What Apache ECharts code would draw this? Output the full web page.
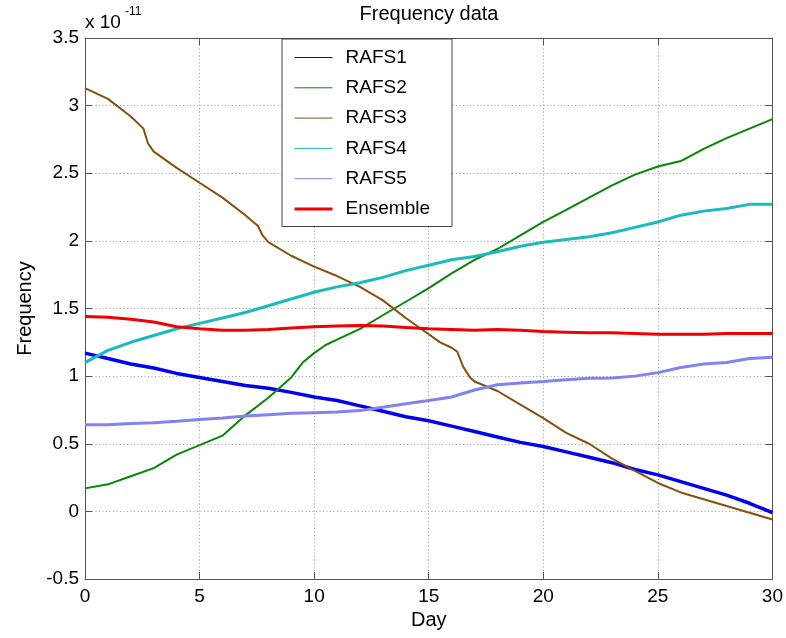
<!DOCTYPE html>
<html>
<head>
<meta charset="utf-8">
<title>Frequency data</title>
<script src="https://cdn.jsdelivr.net/npm/echarts@6/dist/echarts.min.js"></script>
<style>
  html, body { margin: 0; padding: 0; background: #fff; }
  #chart { width: 786px; height: 638px; }
</style>
</head>
<body>
<div id="chart"></div>
<script>
// Frequency offsets of five clocks and their ensemble, in units of 1e-11.
const SCALE_EXPONENT = '-11';

const days = [0, 1, 2, 3, 4, 5, 6, 7, 8, 9, 10, 11, 12, 13, 14, 15,
              16, 17, 18, 19, 20, 21, 22, 23, 24, 25, 26, 27, 28, 29, 30];

const rafs1 = [1.17, 1.13, 1.09, 1.06, 1.02, 0.99, 0.96, 0.93, 0.91, 0.88, 0.845,
               0.82, 0.78, 0.74, 0.70, 0.67, 0.63, 0.59, 0.55, 0.51, 0.48,
               0.44, 0.40, 0.36, 0.31, 0.27, 0.22, 0.17, 0.12, 0.06, -0.01];

const rafs2Days = [0, 1, 2, 3, 4, 5, 6, 7, 8, 9, 9.5, 10, 10.5, 11, 12, 13, 14, 15,
                   16, 17, 18, 19, 20, 21, 22, 23, 24, 25, 26, 27, 28, 29, 30];
const rafs2 = [0.17, 0.20, 0.26, 0.32, 0.42, 0.49, 0.56, 0.71, 0.84, 0.99, 1.10, 1.17,
               1.23, 1.27, 1.35, 1.45, 1.55, 1.65, 1.76, 1.86, 1.94, 2.04, 2.14,
               2.23, 2.32, 2.41, 2.49, 2.55, 2.59, 2.68, 2.76, 2.83, 2.90];

const rafs3Days = [0, 1, 2, 2.55, 2.75, 3, 4, 5, 6, 7, 7.55, 7.75, 8, 9, 10, 11, 12,
                   13, 14, 15, 15.5, 16, 16.25, 16.5, 16.8, 17, 18, 19, 20, 21, 22,
                   23, 24, 25, 26, 27, 28, 29, 30];
const rafs3 = [3.13, 3.05, 2.92, 2.83, 2.72, 2.66, 2.54, 2.43, 2.32, 2.19, 2.11, 2.04,
               1.99, 1.89, 1.81, 1.74, 1.66, 1.56, 1.43, 1.31, 1.25, 1.21, 1.18, 1.07,
               0.99, 0.96, 0.89, 0.79, 0.69, 0.58, 0.50, 0.39, 0.30, 0.21, 0.14,
               0.09, 0.04, -0.01, -0.06];

const rafs4 = [1.10, 1.19, 1.25, 1.30, 1.35, 1.39, 1.43, 1.47, 1.52, 1.57, 1.62,
               1.66, 1.69, 1.73, 1.78, 1.82, 1.86, 1.885, 1.92, 1.96, 1.99,
               2.01, 2.03, 2.06, 2.10, 2.14, 2.19, 2.22, 2.24, 2.27, 2.27];

const rafs5 = [0.64, 0.64, 0.65, 0.655, 0.667, 0.68, 0.69, 0.705, 0.715, 0.725, 0.73,
               0.735, 0.745, 0.77, 0.795, 0.82, 0.846, 0.897, 0.936, 0.95, 0.96,
               0.974, 0.985, 0.987, 1.0, 1.026, 1.064, 1.09, 1.10, 1.13, 1.14];

const ensemble = [1.44, 1.435, 1.42, 1.40, 1.365, 1.35, 1.34, 1.34, 1.345, 1.355, 1.365,
                  1.37, 1.375, 1.37, 1.36, 1.35, 1.345, 1.34, 1.345, 1.34, 1.33,
                  1.325, 1.32, 1.32, 1.315, 1.31, 1.31, 1.31, 1.315, 1.315, 1.315];

const seriesNames = ['RAFS1', 'RAFS2', 'RAFS3', 'RAFS4', 'RAFS5', 'Ensemble'];
const xTicks = [0, 5, 10, 15, 20, 25, 30];
const yTicks = [-0.5, 0, 0.5, 1, 1.5, 2, 2.5, 3, 3.5];

const pair = (xs, ys) => xs.map((x, i) => [x, ys[i]]);

const seriesData = [
  pair(days, rafs1),
  pair(rafs2Days, rafs2),
  pair(rafs3Days, rafs3),
  pair(days, rafs4),
  pair(days, rafs5),
  pair(days, ensemble)
];

const colors = ['#0000f0', '#0a840a', '#84500e', '#1cbaba', '#8282f0', '#f00000'];
const widths = [3.5, 2, 2, 3, 3, 3];
const legendWidths = [1, 1, 1, 1, 1, 3];

const FONT = 'Liberation Sans, Arial, Helvetica, sans-serif';
const AXIS_COLOR = '#555';

const chart = echarts.init(document.getElementById('chart'), null, { renderer: 'canvas' });

const tickFmt = v => String(+v.toFixed(2));

const option = {
  animation: false,
  backgroundColor: '#fff',
  textStyle: { fontFamily: FONT },
  grid: { left: 85, right: 13, top: 38, bottom: 59, containLabel: false },
  legend: {
    orient: 'vertical',
    left: 282,
    top: 39,
    itemWidth: 38,
    itemHeight: 14,
    itemGap: 11.3,
    padding: [9, 22, 8, 11],
    borderColor: '#444',
    borderWidth: 1,
    borderRadius: 0,
    backgroundColor: '#fff',
    textStyle: { fontSize: 19, color: '#000', fontFamily: FONT, padding: [0, 0, 0, 8] },
    data: seriesNames.map((n, i) => ({
      name: n,
      // line sample only, no marker
      itemStyle: { opacity: 0 },
      lineStyle: { color: colors[i], width: legendWidths[i] }
    }))
  },
  graphic: [
    {
      type: 'text', x: 429, y: 4, z: 10,
      style: { text: 'Frequency data', fontSize: 20, fontFamily: FONT, fill: '#000',
               align: 'center', verticalAlign: 'top' }
    },
    {
      type: 'text', x: 85, y: 13, z: 10,
      style: { text: 'x 10', fontSize: 19, fontFamily: FONT, fill: '#000',
               align: 'left', verticalAlign: 'top' }
    },
    {
      type: 'text', x: 125, y: 6, z: 10,
      style: { text: SCALE_EXPONENT, fontSize: 12, fontFamily: FONT, fill: '#000',
               align: 'left', verticalAlign: 'top' }
    }
  ],
  xAxis: [
    {
      type: 'value', min: xTicks[0], max: xTicks[xTicks.length - 1], interval: 5,
      name: 'Day', nameLocation: 'middle', nameGap: 31,
      nameTextStyle: { fontSize: 20, color: '#000', fontFamily: FONT },
      axisLine: { show: true, onZero: false, lineStyle: { color: AXIS_COLOR, width: 1 } },
      axisTick: { show: true, inside: true, length: 7, lineStyle: { color: AXIS_COLOR } },
      axisLabel: { fontSize: 19, color: '#000', margin: 8, fontFamily: FONT, formatter: tickFmt },
      splitLine: { show: true, lineStyle: { color: '#9a9a9a', type: [1, 2.5], width: 1 } }
    },
    {
      type: 'value', position: 'top', min: xTicks[0], max: xTicks[xTicks.length - 1], interval: 5,
      axisLine: { show: true, onZero: false, lineStyle: { color: AXIS_COLOR, width: 1 } },
      axisTick: { show: true, inside: true, length: 7, lineStyle: { color: AXIS_COLOR } },
      axisLabel: { show: false },
      splitLine: { show: false }
    }
  ],
  yAxis: [
    {
      type: 'value', min: yTicks[0], max: yTicks[yTicks.length - 1], interval: 0.5,
      name: 'Frequency', nameLocation: 'middle', nameGap: 50, nameRotate: 90,
      nameTextStyle: { fontSize: 20, color: '#000', fontFamily: FONT },
      axisLine: { show: true, onZero: false, lineStyle: { color: AXIS_COLOR, width: 1 } },
      axisTick: { show: true, inside: true, length: 7, lineStyle: { color: AXIS_COLOR } },
      axisLabel: { fontSize: 19, color: '#000', margin: 6, fontFamily: FONT, formatter: tickFmt },
      splitLine: { show: true, lineStyle: { color: '#9a9a9a', type: [1, 2.5], width: 1 } }
    },
    {
      type: 'value', position: 'right', min: yTicks[0], max: yTicks[yTicks.length - 1], interval: 0.5,
      axisLine: { show: true, onZero: false, lineStyle: { color: AXIS_COLOR, width: 1 } },
      axisTick: { show: true, inside: true, length: 7, lineStyle: { color: AXIS_COLOR } },
      axisLabel: { show: false },
      splitLine: { show: false }
    }
  ],
  series: seriesNames.map((name, i) => ({
    name,
    type: 'line',
    xAxisIndex: 0,
    yAxisIndex: 0,
    data: seriesData[i],
    showSymbol: false,
    symbol: 'none',
    smooth: false,
    color: colors[i],
    lineStyle: { color: colors[i], width: widths[i] },
    emphasis: { disabled: true },
    z: 2 + i
  }))
};

chart.setOption(option);
</script>
</body>
</html>
